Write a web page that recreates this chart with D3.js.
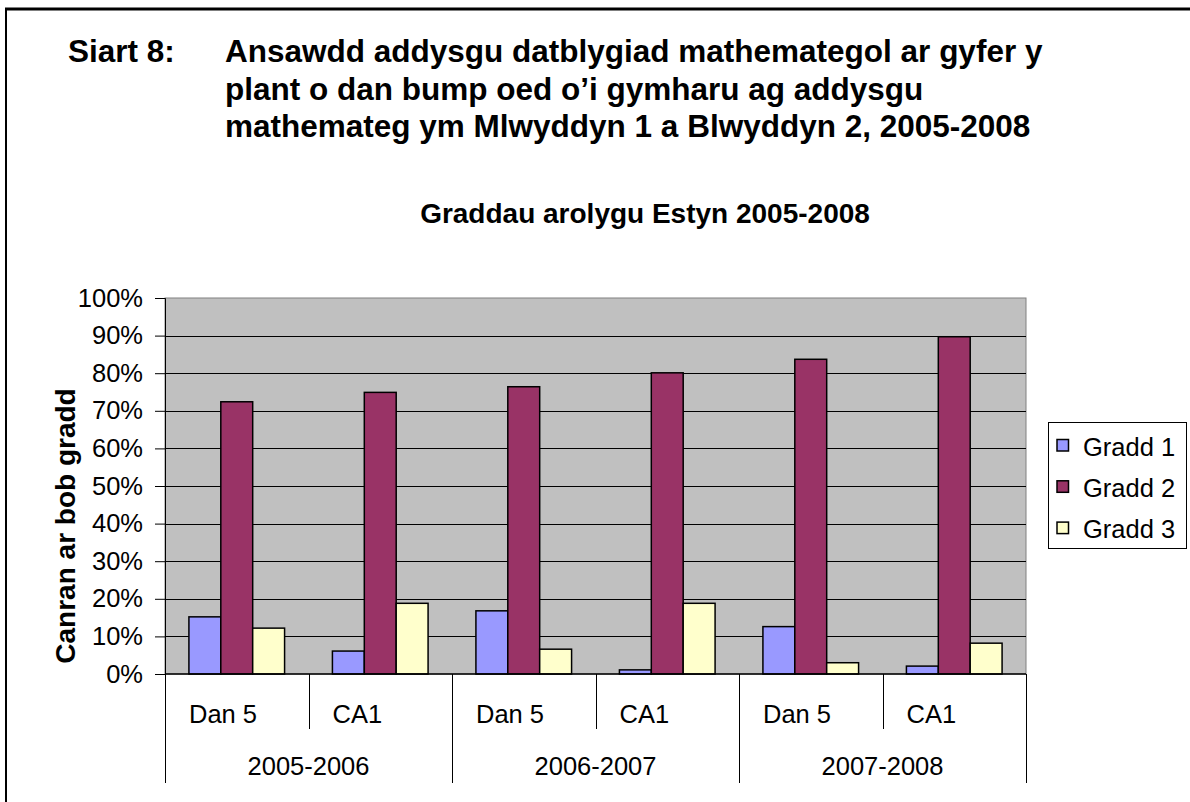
<!DOCTYPE html>
<html>
<head>
<meta charset="utf-8">
<script src="https://cdn.jsdelivr.net/npm/d3@7"></script>
<style>
  body { margin: 0; background: #fff; }
  svg { display: block; font-family: Arial, "Liberation Sans", sans-serif; }
</style>
</head>
<body>
<div id="chart"></div>
<script>
// data
const YEARS = ['2005-2006', '2006-2007', '2007-2008'];
const STAGES = ['Dan 5', 'CA1'];
const SERIES = ['Gradd 1', 'Gradd 2', 'Gradd 3'];
const GRADD_1 = [15.2, 6.1, 16.8, 1.1, 12.6, 2.1];
const GRADD_2 = [72.4, 74.9, 76.4, 80.1, 83.7, 89.7];
const GRADD_3 = [12.2, 18.8, 6.6, 18.8, 3.0, 8.2];
const Y_TICKS = [0, 10, 20, 30, 40, 50, 60, 70, 80, 90, 100];
const COLORS = ['#9999FF', '#993366', '#FFFFCC'];

const HEADING = 'Siart 8:';
const HEADING_LINES = [
  'Ansawdd addysgu datblygiad mathemategol ar gyfer y',
  'plant o dan bump oed o\u2019i gymharu ag addysgu',
  'mathemateg ym Mlwyddyn 1 a Blwyddyn 2, 2005-2008'
];
const CHART_TITLE = 'Graddau arolygu Estyn 2005-2008';
const Y_TITLE = 'Canran ar bob gradd';

const W = 1190, H = 802;
const plot = { left: 165, right: 1026, top: 298, bottom: 674 };
const LABEL_FONT = '25.5px';

// one row per bar group (year x stage)
const cats = [];
YEARS.forEach(y => STAGES.forEach(s => cats.push({ year: y, stage: s, key: y + '|' + s })));
const seriesVals = [GRADD_1, GRADD_2, GRADD_3];

const svg = d3.select('#chart').append('svg')
  .attr('width', W)
  .attr('height', H);

// page frame (top and left rule)
svg.append('line').attr('x1', 5).attr('x2', W).attr('y1', 9).attr('y2', 9)
  .attr('stroke', '#000').attr('stroke-width', 3);
svg.append('line').attr('x1', 6).attr('x2', 6).attr('y1', 8).attr('y2', H)
  .attr('stroke', '#000').attr('stroke-width', 2);

// heading
const headG = svg.append('g').attr('font-weight', 'bold').attr('font-size', '31.5px').attr('fill', '#000');
headG.append('text').attr('x', 68).attr('y', 62).text(HEADING);
HEADING_LINES.forEach((t, i) => {
  headG.append('text').attr('x', 225).attr('y', 62 + i * 37.5).text(t);
});

svg.append('text')
  .attr('x', 645).attr('y', 223)
  .attr('text-anchor', 'middle')
  .attr('font-weight', 'bold').attr('font-size', '28px')
  .text(CHART_TITLE);

// scales
const x0 = d3.scaleBand()
  .domain(cats.map(c => c.key))
  .range([plot.left, plot.right])
  .padding(0);

const x1 = d3.scaleBand()
  .domain(SERIES)
  .range([0, x0.bandwidth()])
  .paddingInner(0)
  .paddingOuter(0.75);

const y = d3.scaleLinear()
  .domain([0, 100])
  .range([plot.bottom, plot.top]);

// plot background
svg.append('rect')
  .attr('x', plot.left).attr('y', plot.top)
  .attr('width', plot.right - plot.left).attr('height', plot.bottom - plot.top)
  .attr('fill', '#C0C0C0')
  .attr('stroke', '#808080').attr('stroke-width', 1);

// gridlines
svg.append('g')
  .selectAll('line')
  .data(Y_TICKS.filter(d => d > 0 && d < 100))
  .join('line')
  .attr('x1', plot.left).attr('x2', plot.right)
  .attr('y1', d => Math.round(y(d)) + 0.5).attr('y2', d => Math.round(y(d)) + 0.5)
  .attr('stroke', '#000').attr('stroke-width', 1);

// bars
const barG = svg.append('g');
cats.forEach((c, ci) => {
  SERIES.forEach((s, si) => {
    const v = seriesVals[si][ci];
    barG.append('rect')
      .attr('x', x0(c.key) + x1(s))
      .attr('y', y(v))
      .attr('width', x1.bandwidth())
      .attr('height', y(0) - y(v))
      .attr('fill', COLORS[si])
      .attr('stroke', '#000')
      .attr('stroke-width', 1.5);
  });
});

// y axis
const yAxis = d3.axisLeft(y)
  .tickValues(Y_TICKS)
  .tickSize(10)
  .tickPadding(12)
  .tickFormat(d => d + '%');

const yAxisG = svg.append('g')
  .attr('transform', `translate(${plot.left},0)`)
  .call(yAxis);
yAxisG.select('.domain').attr('stroke', '#000');
yAxisG.selectAll('line').attr('stroke', '#000');
yAxisG.selectAll('text')
  .attr('font-family', 'Arial, "Liberation Sans", sans-serif')
  .attr('font-size', LABEL_FONT)
  .attr('fill', '#000');

svg.append('text')
  .attr('transform', `translate(75,${(plot.top + plot.bottom) / 2 + 40}) rotate(-90)`)
  .attr('text-anchor', 'middle')
  .attr('font-weight', 'bold').attr('font-size', '28px')
  .text(Y_TITLE);

// category axis: baseline + two-level separators
svg.append('line')
  .attr('x1', plot.left).attr('x2', plot.right)
  .attr('y1', plot.bottom).attr('y2', plot.bottom)
  .attr('stroke', '#000').attr('stroke-width', 1.5);

const sepG = svg.append('g').attr('stroke', '#000').attr('stroke-width', 1);
cats.forEach((c, i) => {
  const xs = Math.round(x0(c.key)) + 0.5;
  sepG.append('line')
    .attr('x1', xs).attr('x2', xs)
    .attr('y1', plot.bottom).attr('y2', i % STAGES.length === 0 ? 783 : 729);
});
sepG.append('line')
  .attr('x1', plot.right + 0.5).attr('x2', plot.right + 0.5)
  .attr('y1', plot.bottom).attr('y2', 783);

const labG = svg.append('g').attr('font-size', LABEL_FONT).attr('fill', '#000');
labG.selectAll('text.stage')
  .data(cats)
  .join('text')
  .attr('class', 'stage')
  .attr('x', d => x0(d.key) + 24)
  .attr('y', 723)
  .text(d => d.stage);

labG.selectAll('text.year')
  .data(YEARS)
  .join('text')
  .attr('class', 'year')
  .attr('text-anchor', 'middle')
  .attr('x', yr => x0(yr + '|' + STAGES[0]) + x0.bandwidth() * STAGES.length / 2)
  .attr('y', 775)
  .text(yr => yr);

// legend
const legG = svg.append('g');
legG.append('rect')
  .attr('x', 1048.5).attr('y', 422.5)
  .attr('width', 138).attr('height', 126)
  .attr('fill', '#fff').attr('stroke', '#000').attr('stroke-width', 1);
SERIES.forEach((s, i) => {
  legG.append('rect')
    .attr('x', 1057).attr('y', 439.5 + i * 41.3)
    .attr('width', 11.5).attr('height', 11.5)
    .attr('fill', COLORS[i]).attr('stroke', '#000').attr('stroke-width', 1.5);
  legG.append('text')
    .attr('x', 1083).attr('y', 455.5 + i * 41.3)
    .attr('font-size', LABEL_FONT)
    .text(s);
});
</script>
</body>
</html>
